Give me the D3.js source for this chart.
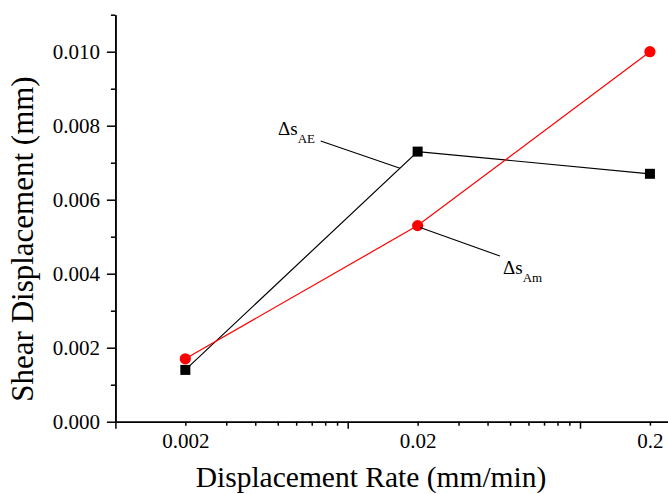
<!DOCTYPE html>
<html>
<head>
<meta charset="utf-8">
<script src="https://cdn.jsdelivr.net/npm/d3@7"></script>
<style>
  body { margin: 0; background: #fff; }
  .axis path, .axis line { stroke: #000; stroke-width: 1.5; }
</style>
</head>
<body>
<div id="chart"></div>
<script>
// data
var rates = [0.002, 0.02, 0.2];
var dsAE = [0.0014, 0.0073, 0.0067];
var dsAm = [0.0017, 0.0053, 0.0100];

var xLabelTicks = [0.002, 0.02, 0.2];
var xMajorTicks = [0.001, 0.01, 0.1, 1];
var yMajorTicks = [0, 0.002, 0.004, 0.006, 0.008, 0.010];
var yMinorTicks = [0.001, 0.003, 0.005, 0.007, 0.009, 0.011];

var serif = "'Liberation Serif', 'Times New Roman', Times, serif";
var width = 668, height = 494;

var svg = d3.select('#chart')
  .append('svg')
  .attr('width', width)
  .attr('height', height)
  .style('display', 'block');

// scales
var x = d3.scaleLog()
  .domain([0.001, 1])
  .range([115.4, 115.4 + 3 * 232.3]);

var y = d3.scaleLinear()
  .domain([0, 0.011])
  .range([421.7, 14.7]);

// minor x ticks 2..9 in each decade
var xMinorTicks = [];
xMajorTicks.slice(0, 3).forEach(function(d) {
  for (var k = 2; k <= 9; k++) xMinorTicks.push(d * k);
});

function styleAxis(g) {
  g.attr('font-family', serif).attr('font-size', 21);
  g.selectAll('text').style('font-family', serif).style('fill', '#000');
}

// X axis (minor ticks with labels, then major ticks)
svg.append('g')
  .attr('class', 'axis')
  .attr('transform', 'translate(0,' + y(0) + ')')
  .call(d3.axisBottom(x)
    .tickValues(xMinorTicks)
    .tickSize(4)
    .tickSizeOuter(0)
    .tickPadding(7.3)
    .tickFormat(function(d) {
      var hit = xLabelTicks.filter(function(v) { return Math.abs(v - d) / v < 1e-6; });
      return hit.length ? d3.format('')(hit[0]) : '';
    }))
  .call(styleAxis);

svg.append('g')
  .attr('class', 'axis')
  .attr('transform', 'translate(0,' + y(0) + ')')
  .call(d3.axisBottom(x)
    .tickValues(xMajorTicks)
    .tickSize(7)
    .tickSizeOuter(0)
    .tickFormat(''));

// Y axis
svg.append('g')
  .attr('class', 'axis')
  .attr('transform', 'translate(' + x(0.001) + ',0)')
  .call(d3.axisLeft(y)
    .tickValues(yMinorTicks)
    .tickSize(4.5)
    .tickSizeOuter(0)
    .tickFormat(''));

svg.append('g')
  .attr('class', 'axis')
  .attr('transform', 'translate(' + x(0.001) + ',0)')
  .call(d3.axisLeft(y)
    .tickValues(yMajorTicks)
    .tickSize(8.5)
    .tickSizeOuter(0)
    .tickPadding(7)
    .tickFormat(d3.format('.3f')))
  .call(styleAxis);

// axis titles
svg.append('text')
  .attr('x', 371)
  .attr('y', 487)
  .attr('text-anchor', 'middle')
  .style('font-family', serif)
  .style('font-size', '29.5px')
  .text('Displacement Rate (mm/min)');

svg.append('text')
  .attr('transform', 'translate(33,239) rotate(-90)')
  .attr('text-anchor', 'middle')
  .style('font-family', serif)
  .style('font-size', '31px')
  .text('Shear Displacement (mm)');

// lines
var line = d3.line()
  .x(function(d) { return x(d[0]); })
  .y(function(d) { return y(d[1]); });

var aeData = rates.map(function(r, i) { return [r, dsAE[i]]; });
var amData = rates.map(function(r, i) { return [r, dsAm[i]]; });

svg.append('path')
  .datum(aeData)
  .attr('d', line)
  .attr('fill', 'none')
  .attr('stroke', '#000')
  .attr('stroke-width', 1.2);

svg.append('path')
  .datum(amData)
  .attr('d', line)
  .attr('fill', 'none')
  .attr('stroke', '#ff0000')
  .attr('stroke-width', 1.2);

// markers
svg.selectAll('.sq')
  .data(aeData)
  .enter()
  .append('rect')
  .attr('x', function(d) { return x(d[0]) - 5; })
  .attr('y', function(d) { return y(d[1]) - 5; })
  .attr('width', 10)
  .attr('height', 10)
  .attr('fill', '#000');

svg.selectAll('.dot')
  .data(amData)
  .enter()
  .append('circle')
  .attr('cx', function(d) { return x(d[0]); })
  .attr('cy', function(d) { return y(d[1]); })
  .attr('r', 5.6)
  .attr('fill', '#ff0000');

// annotations (leader lines in data coords)
var notes = [
  { main: '\u0394s', sub: 'AE', from: [0.00765, 0.007586], to: [0.0168, 0.00685], tx: 278, ty: 135 },
  { main: '\u0394s', sub: 'Am', from: [0.0205, 0.00525], to: [0.0452, 0.004478], tx: 503, ty: 274 }
];

notes.forEach(function(n) {
  svg.append('line')
    .attr('x1', x(n.from[0]))
    .attr('y1', y(n.from[1]))
    .attr('x2', x(n.to[0]))
    .attr('y2', y(n.to[1]))
    .attr('stroke', '#000')
    .attr('stroke-width', 1.1);

  var t = svg.append('text')
    .attr('x', n.tx)
    .attr('y', n.ty)
    .style('font-family', serif)
    .style('font-size', '19px');
  t.append('tspan').text(n.main);
  t.append('tspan')
    .attr('dy', 7.5)
    .style('font-size', '13px')
    .text(n.sub);
});
</script>
</body>
</html>
